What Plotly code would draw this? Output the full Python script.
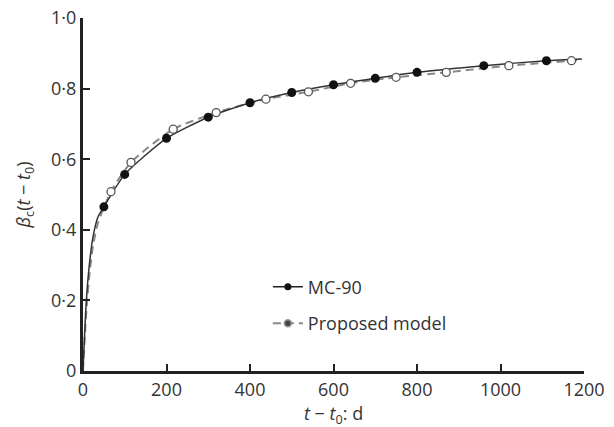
import plotly.graph_objects as go

# MC-90 curve (time in days, beta_c values); markers from index MC90_MARK_FROM on
MC90_T = [0, 8, 16, 24, 36, 50, 100, 200, 300, 400, 500, 600, 700, 800, 960, 1110, 1195]
MC90_Y = [0, 0.20, 0.31, 0.38, 0.437, 0.465, 0.557, 0.659, 0.719, 0.760, 0.789, 0.811, 0.829, 0.846, 0.865, 0.879, 0.884]
MC90_MARK_FROM = 5

# Proposed model curve
PM_T = [0, 8, 16, 24, 36, 67, 115, 216, 319, 438, 540, 641, 750, 870, 1020, 1170, 1195]
PM_Y = [0, 0.17, 0.28, 0.355, 0.42, 0.508, 0.591, 0.685, 0.732, 0.770, 0.791, 0.815, 0.832, 0.846, 0.865, 0.879, 0.882]
PM_MARK_FROM = 5

X_TICKS = [0, 200, 400, 600, 800, 1000, 1200]
Y_TICKS = [0, 0.2, 0.4, 0.6, 0.8, 1.0]
Y_TICK_TEXT = ["0", "0·2", "0·4", "0·6", "0·8", "1·0"]

FONT = "Open Sans"
TXT = "#333333"
fig = go.Figure()

# Proposed model line (dashed, grey)
fig.add_trace(go.Scatter(x=PM_T, y=PM_Y, mode="lines", showlegend=False,
                         line=dict(color="#888888", width=2, dash="8px,5px", shape="spline", smoothing=0.6),
                         hoverinfo="skip"))
# MC-90 line (solid)
fig.add_trace(go.Scatter(x=MC90_T, y=MC90_Y, mode="lines", showlegend=False,
                         line=dict(color="#333333", width=1.5, shape="spline", smoothing=0.6),
                         hoverinfo="skip"))
# Proposed markers
fig.add_trace(go.Scatter(x=PM_T[PM_MARK_FROM:-1], y=PM_Y[PM_MARK_FROM:-1], mode="markers", showlegend=False,
                         marker=dict(symbol="circle", size=8, color="white",
                                     line=dict(color="#555555", width=1.3))))
# MC-90 markers
fig.add_trace(go.Scatter(x=MC90_T[MC90_MARK_FROM:-1], y=MC90_Y[MC90_MARK_FROM:-1], mode="markers", showlegend=False,
                         marker=dict(symbol="circle", size=9, color="#111111")))

# Legend entries
fig.add_trace(go.Scatter(x=[None], y=[None], mode="lines+markers", name="MC-90", legendgroup="a",
                         line=dict(color="#222222", width=1.5),
                         marker=dict(symbol="circle", size=7, color="#111111")))
fig.add_trace(go.Scatter(x=[None], y=[None], mode="lines+markers", name="Proposed model", legendgroup="b",
                         line=dict(color="#888888", width=2, dash="8px,5px"),
                         marker=dict(symbol="circle", size=7, color="#444444",
                                     line=dict(color="#999999", width=1.5))))

axis_common = dict(showline=True, linecolor="#222222", linewidth=3, ticks="inside",
                   ticklen=7, tickwidth=1.5, tickcolor="#222222", showgrid=False, zeroline=False,
                   automargin=False, ticklabeloverflow="allow",
                   tickfont=dict(family=FONT, size=18, color=TXT))

fig.update_xaxes(range=[0, 1200], tickvals=X_TICKS, ticktext=[str(v) for v in X_TICKS], **axis_common)
fig.update_yaxes(range=[0, 1.0], tickvals=Y_TICKS, ticktext=Y_TICK_TEXT, **axis_common)

fig.add_annotation(text="<i>t</i> − <i>t</i><sub>0</sub>: d", xref="paper", yref="paper",
                   x=0.5, y=-0.122, xanchor="center", yanchor="middle", showarrow=False,
                   font=dict(family=FONT, size=18, color=TXT))
fig.add_annotation(text="<i>β</i><sub>c</sub>(<i>t</i> − <i>t</i><sub>0</sub>)", xref="paper", yref="paper",
                   x=-0.116, y=0.5, xanchor="center", yanchor="middle", textangle=-90, showarrow=False,
                   font=dict(family=FONT, size=18, color=TXT))

# The page body has an 8px margin, so the figure is sized to the visible area
fig.update_layout(
    width=606, height=419,
    margin=dict(l=75, r=30, t=10, b=56),
    plot_bgcolor="white", paper_bgcolor="white",
    font=dict(family=FONT, size=18, color=TXT),
    legend=dict(x=0.369, y=0.29, xanchor="left", yanchor="top", tracegroupgap=10,
                bgcolor="rgba(0,0,0,0)", font=dict(family=FONT, size=18, color=TXT)),
)

fig.write_html("out.html")
